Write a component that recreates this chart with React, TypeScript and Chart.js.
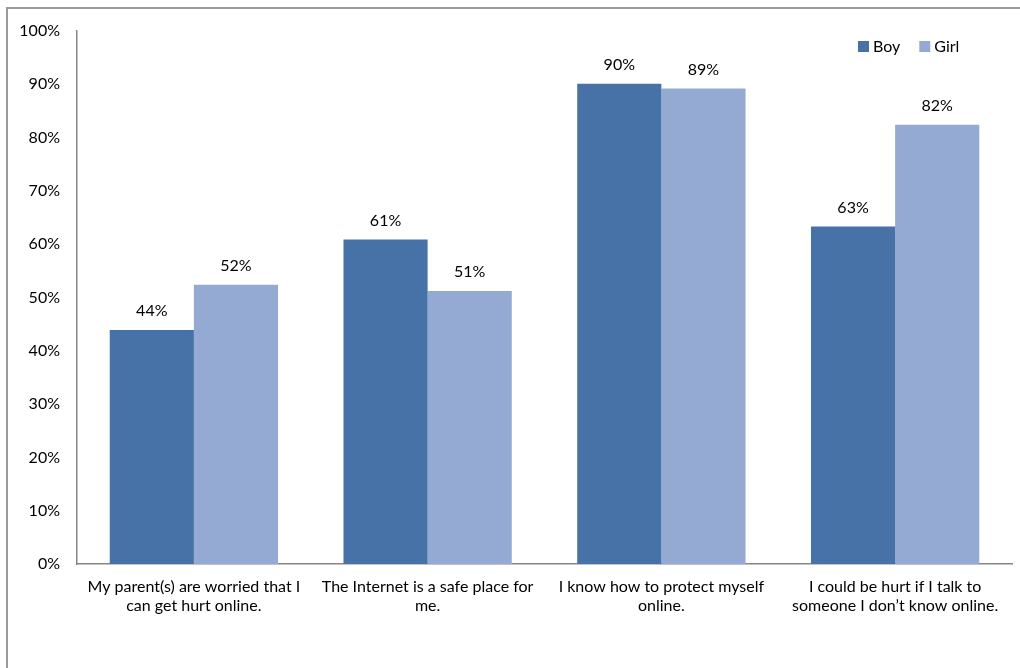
import React, { useEffect, useRef } from "react";
import { Chart, registerables } from "chart.js";

Chart.register(...registerables);

const categories: string[][] = [
  ["My parent(s) are worried that I", "can get hurt online."],
  ["The Internet is a safe place for", "me."],
  ["I know how to protect myself", "online."],
  ["I could be hurt if I talk to", "someone I don\u2019t know online."],
];
const seriesNames = ["Boy", "Girl"];
const boyValues = [43.9, 60.9, 90.1, 63.3];
const girlValues = [52.4, 51.2, 89.2, 82.4];
const yTickValues = [0, 10, 20, 30, 40, 50, 60, 70, 80, 90, 100];
const seriesColors = ["#4672A8", "#95AAD2"];

const FONT = "Lato, 'Noto Sans', sans-serif";

const valueLabelPlugin = {
  id: "valueLabels",
  afterDatasetsDraw(chart: any) {
    const ctx = chart.ctx;
    ctx.save();
    ctx.font = `16px ${FONT}`;
    ctx.fillStyle = "#000";
    ctx.textAlign = "center";
    ctx.textBaseline = "middle";
    chart.data.datasets.forEach((ds: any, i: number) => {
      const meta = chart.getDatasetMeta(i);
      meta.data.forEach((el: any, j: number) => {
        const v = ds.data[j];
        ctx.fillText(Math.round(v) + "%", el.x, el.y - 19);
      });
    });
    ctx.restore();
  },
};

const boxLegendPlugin = {
  id: "boxLegend",
  afterDraw(chart: any) {
    const ctx = chart.ctx;
    const area = chart.chartArea;
    ctx.save();
    ctx.font = `16px ${FONT}`;
    ctx.textBaseline = "middle";
    ctx.textAlign = "left";
    let x = area.right - 154;
    const y = area.top + 10;
    chart.data.datasets.forEach((ds: any) => {
      ctx.fillStyle = ds.backgroundColor;
      ctx.fillRect(x, y, 11, 11);
      x += 15;
      ctx.fillStyle = "#000";
      ctx.fillText(ds.label, x, y + 6);
      x += ctx.measureText(ds.label).width + 19;
    });
    ctx.restore();
  },
};

export default function App() {
  const canvasRef = useRef<HTMLCanvasElement | null>(null);

  useEffect(() => {
    if (!canvasRef.current) return;
    const chart = new Chart(canvasRef.current, {
      type: "bar",
      data: {
        labels: categories,
        datasets: [
          {
            label: seriesNames[0],
            data: boyValues,
            backgroundColor: seriesColors[0],
            categoryPercentage: 0.72,
            barPercentage: 1,
          },
          {
            label: seriesNames[1],
            data: girlValues,
            backgroundColor: seriesColors[1],
            categoryPercentage: 0.72,
            barPercentage: 1,
          },
        ],
      },
      options: {
        responsive: false,
        animation: false,
        layout: { padding: { left: 0, right: 8, top: 22, bottom: 0 } },
        plugins: {
          legend: { display: false },
          tooltip: { enabled: false },
          title: { display: false },
        },
        scales: {
          x: {
            grid: { display: false, drawTicks: false },
            border: { display: true, color: "#868686", width: 1.5 },
            ticks: {
              color: "#000",
              font: { family: FONT, size: 16, lineHeight: 1.2 },
              padding: 13,
              maxRotation: 0,
              autoSkip: false,
            },
            afterFit: (s: any) => {
              s.height = 104;
              s.paddingLeft = 0;
              s.paddingRight = 0;
            },
          },
          y: {
            min: 0,
            max: 100,
            afterBuildTicks: (s: any) => {
              s.ticks = yTickValues.map((v) => ({ value: v }));
            },
            grid: { display: false, drawTicks: false },
            border: { display: true, color: "#868686", width: 1.5 },
            ticks: {
              color: "#000",
              font: { family: FONT, size: 16 },
              padding: 17,
              callback: (v: any) => v + "%",
            },
            afterFit: (s: any) => {
              s.width = 69;
              s.paddingTop = 0;
              s.paddingBottom = 0;
            },
          },
        },
      },
      plugins: [valueLabelPlugin, boxLegendPlugin],
    });
    return () => chart.destroy();
  }, []);

  return (
    <div
      style={{
        position: "fixed",
        left: 0,
        top: 0,
        width: 1020,
        height: 668,
        overflow: "hidden",
        background: "#fff",
      }}
    >
      <div
        style={{
          position: "absolute",
          left: 6,
          top: 7,
          width: 1200,
          height: 800,
          borderLeft: "2px solid #9a9a9a",
          borderTop: "2px solid #9a9a9a",
        }}
      />
      <canvas
        ref={canvasRef}
        width={1012}
        height={659}
        style={{ position: "absolute", left: 8, top: 9, width: 1012, height: 659 }}
      />
    </div>
  );
}
